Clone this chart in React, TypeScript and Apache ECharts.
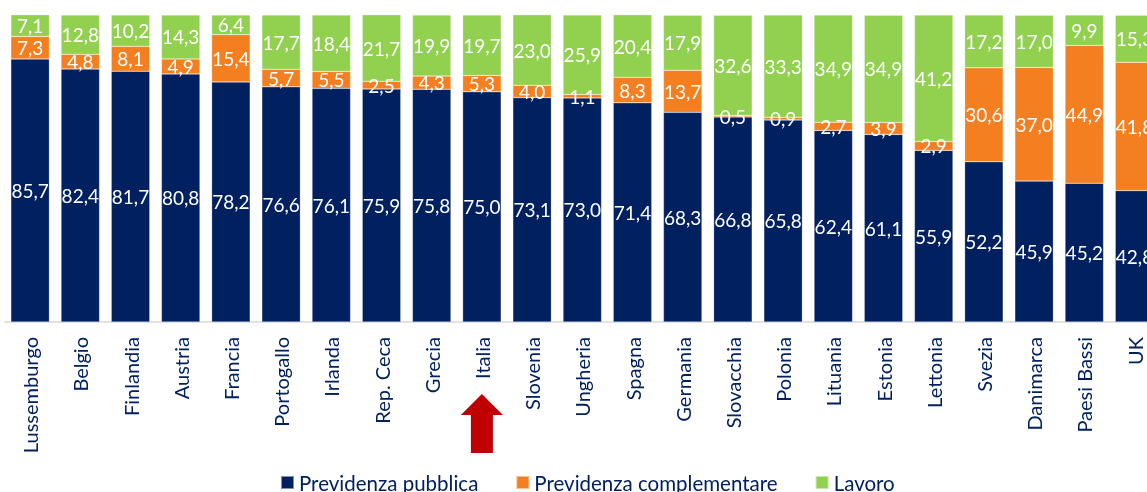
import React, { useEffect, useRef } from "react";
import * as echarts from "echarts";

const categories = [
  "Lussemburgo", "Belgio", "Finlandia", "Austria", "Francia", "Portogallo", "Irlanda",
  "Rep. Ceca", "Grecia", "Italia", "Slovenia", "Ungheria", "Spagna", "Germania",
  "Slovacchia", "Polonia", "Lituania", "Estonia", "Lettonia", "Svezia", "Danimarca",
  "Paesi Bassi", "UK",
];
const previdenzaPubblica = [85.7, 82.4, 81.7, 80.8, 78.2, 76.6, 76.1, 75.9, 75.8, 75.0, 73.1, 73.0, 71.4, 68.3, 66.8, 65.8, 62.4, 61.1, 55.9, 52.2, 45.9, 45.2, 42.8];
const previdenzaComplementare = [7.3, 4.8, 8.1, 4.9, 15.4, 5.7, 5.5, 2.5, 4.3, 5.3, 4.0, 1.1, 8.3, 13.7, 0.5, 0.9, 2.7, 3.9, 2.9, 30.6, 37.0, 44.9, 41.8];
const lavoro = [7.1, 12.8, 10.2, 14.3, 6.4, 17.7, 18.4, 21.7, 19.9, 19.7, 23.0, 25.9, 20.4, 17.9, 32.6, 33.3, 34.9, 34.9, 41.2, 17.2, 17.0, 9.9, 15.3];
const seriesNames = ["Previdenza pubblica", "Previdenza complementare", "Lavoro"];
const highlighted = "Italia";

const FONT = "Lato";
const NAVY = "#002060";

export default function App() {
  const ref = useRef<HTMLDivElement>(null);
  useEffect(() => {
    if (!ref.current) return;
    const chart = echarts.init(ref.current, undefined, { renderer: "svg" });
    const fmt = (p: any) => (p.value as number).toFixed(1).replace(".", ",");
    const label = {
      show: true,
      position: "inside" as const,
      color: "#ffffff",
      fontFamily: FONT,
      fontSize: 19,
      formatter: fmt,
    };
    const mk = (name: string, data: number[], color: string) => ({
      name,
      type: "bar" as const,
      stack: "tot",
      data,
      barCategoryGap: "23.3%",
      itemStyle: { color, borderColor: "rgba(255,255,255,0.5)", borderWidth: 0.5 },
      label,
    });
    chart.setOption({
      animation: false,
      textStyle: { fontFamily: FONT },
      grid: {
        left: 5,
        top: 15,
        width: 1154.6,
        height: 307,
        containLabel: false,
        outerBoundsMode: "none",
      },
      legend: {
        left: 275,
        top: 467,
        itemWidth: 13,
        itemHeight: 13,
        itemGap: 37,
        icon: "rect",
        textStyle: { color: NAVY, fontFamily: FONT, fontSize: 20.5 },
        data: seriesNames,
      },
      xAxis: {
        type: "category",
        data: categories,
        axisLine: { lineStyle: { color: "#d9d9d9", width: 1.5 } },
        axisTick: { show: false },
        axisLabel: {
          rotate: 90,
          interval: 0,
          margin: 15,
          color: NAVY,
          fontFamily: FONT,
          fontSize: 20,
        },
      },
      yAxis: { type: "value", min: 0, max: 100, show: false },
      series: [
        mk(seriesNames[0], previdenzaPubblica, NAVY),
        mk(seriesNames[1], previdenzaComplementare, "#F47F20"),
        mk(seriesNames[2], lavoro, "#92D050"),
      ],
    });
    const cx = chart.convertToPixel({ xAxisIndex: 0 }, highlighted) as number;
    chart.setOption({
      graphic: [
        {
          type: "polygon",
          shape: {
            points: [
              [cx, 394],
              [cx + 21, 415],
              [cx + 11, 415],
              [cx + 11, 453],
              [cx - 11, 453],
              [cx - 11, 415],
              [cx - 21, 415],
            ],
          },
          style: { fill: "#C00000" },
        },
      ],
    });
    return () => chart.dispose();
  }, []);
  return <div ref={ref} style={{ position: "fixed", left: 0, top: 0, width: 1147, height: 492 }} />;
}
